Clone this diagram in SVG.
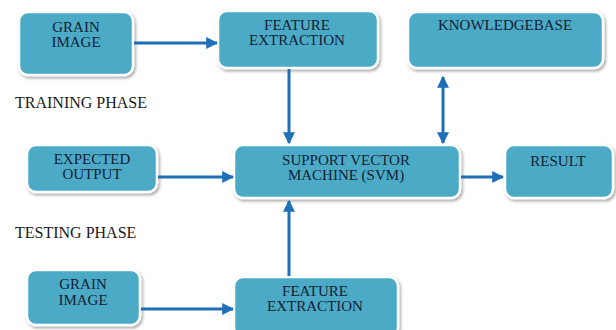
<svg xmlns="http://www.w3.org/2000/svg" width="616" height="330" viewBox="0 0 616 330">
<defs>
<filter id="sh" x="-10%" y="-10%" width="130%" height="140%">
<feDropShadow dx="1.5" dy="2" stdDeviation="1.5" flood-color="#000" flood-opacity="0.35"/>
</filter>
<marker id="ah" viewBox="0 0 10 10" refX="9" refY="5" markerWidth="4" markerHeight="4" orient="auto-start-reverse">
<path d="M0,0 L10,5 L0,10 z" fill="#1f6fb8"/>
</marker>
<style>
.box{fill:#4babc7;stroke:#ffffff;stroke-width:2.5;filter:url(#sh)}
.t{font-family:'Liberation Serif','Times New Roman','DejaVu Serif',serif;font-size:15px;fill:#142032;text-anchor:middle}
.lbl{font-family:'Liberation Serif','Times New Roman','DejaVu Serif',serif;font-size:16px;fill:#1a1a1a}
.c{stroke:#1f6fb8;stroke-width:3;fill:none}
</style>
</defs>
<rect width="616" height="330" fill="#fff"/>
<g id="grain1"><rect class="box" x="19" y="12" width="114" height="63" rx="9"/><text class="t" x="76" y="32">GRAIN</text><text class="t" x="76" y="47">IMAGE</text></g>
<g id="feat1"><rect class="box" x="218" y="11" width="160" height="57" rx="9"/><text class="t" x="297" y="30">FEATURE</text><text class="t" x="297" y="45">EXTRACTION</text></g>
<g id="kb"><rect class="box" x="408" y="12" width="195" height="56" rx="9"/><text class="t" x="505" y="30">KNOWLEDGEBASE</text></g>
<g id="expected"><rect class="box" x="27" y="145" width="130" height="47" rx="9"/><text class="t" x="92" y="164">EXPECTED</text><text class="t" x="92" y="179">OUTPUT</text></g>
<g id="svm"><rect class="box" x="234" y="145" width="226" height="53" rx="9"/><text class="t" x="346" y="165">SUPPORT VECTOR</text><text class="t" x="346" y="180">MACHINE (SVM)</text></g>
<g id="result"><rect class="box" x="505" y="145" width="108" height="53" rx="9"/><text class="t" x="558" y="166">RESULT</text></g>
<g id="grain2"><rect class="box" x="27" y="270" width="113" height="55" rx="9"/><text class="t" x="83" y="289">GRAIN</text><text class="t" x="83" y="305">IMAGE</text></g>
<g id="feat2"><rect class="box" x="234" y="277" width="164" height="60" rx="9"/><text class="t" x="315" y="296">FEATURE</text><text class="t" x="315" y="311">EXTRACTION</text></g>
<text class="lbl" x="15" y="108">TRAINING PHASE</text>
<text class="lbl" x="15" y="238">TESTING PHASE</text>
<g id="connectors">
<line class="c" x1="134" y1="43" x2="217" y2="43" marker-end="url(#ah)"/>
<line class="c" x1="289" y1="69" x2="289" y2="143" marker-end="url(#ah)"/>
<line class="c" x1="443" y1="77" x2="443" y2="143" marker-start="url(#ah)" marker-end="url(#ah)"/>
<line class="c" x1="158" y1="177" x2="233" y2="177" marker-end="url(#ah)"/>
<line class="c" x1="461" y1="177" x2="503" y2="177" marker-end="url(#ah)"/>
<line class="c" x1="289" y1="276" x2="289" y2="201" marker-end="url(#ah)"/>
<line class="c" x1="141" y1="309" x2="233" y2="309" marker-end="url(#ah)"/>
</g>
</svg>
